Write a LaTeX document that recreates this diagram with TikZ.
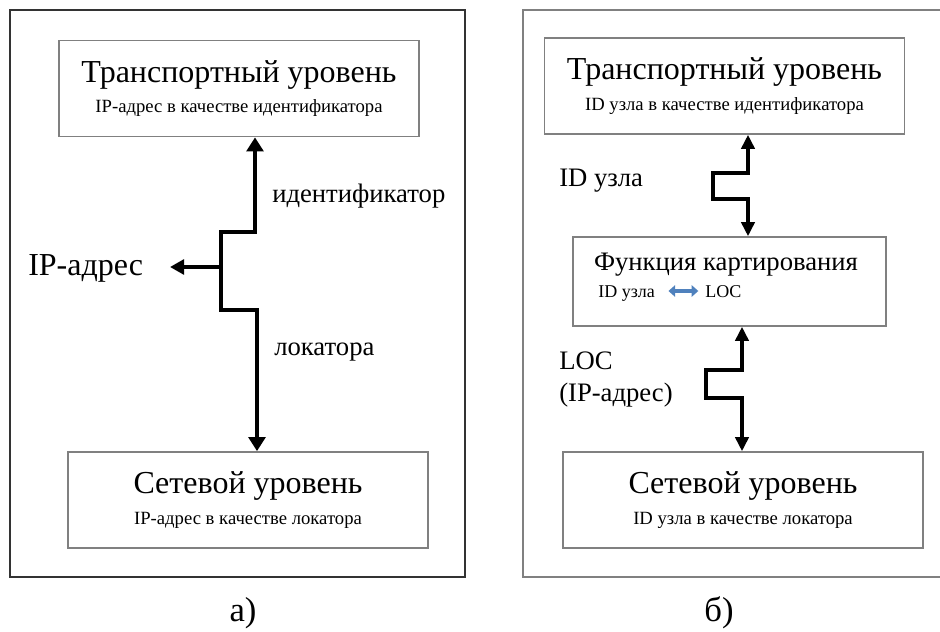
\documentclass[tikz,border=0pt]{standalone}
\usepackage{fontspec}
\setmainfont{Liberation Serif}
\usetikzlibrary{arrows.meta, positioning, calc}

\newcommand{\lvlfont}{\fontsize{24}{26}\selectfont}
\newcommand{\subfont}{\fontsize{14}{16}\selectfont}
\definecolor{boxgray}{RGB}{128,128,128}
\definecolor{mapblue}{RGB}{79,129,189}

\tikzstyle{layer} = [rectangle, draw=boxgray, line width=1.3pt, minimum width=270pt,
                     minimum height=72pt, align=center, inner sep=0pt, font=\subfont]
\tikzstyle{link}  = [line width=2.7pt, {Triangle[length=10.5pt,width=12.5pt]}-{Triangle[length=10.5pt,width=12.5pt]}]

\begin{document}
\begin{tikzpicture}[x=0.75pt, y=-0.75pt,
    lbl/.style={inner sep=0pt, font=\fontsize{20}{24}\selectfont},
    small/.style={inner sep=0pt, font=\fontsize{13.5}{16}\selectfont},
    subcap/.style={inner sep=0pt, font=\fontsize{26}{30}\selectfont},
    linkB/.style={line width=2.3pt, {Triangle[length=10.5pt,width=10pt]}-{Triangle[length=10.5pt,width=10pt]}},
    swap/.style={line width=2.6pt, mapblue, {Triangle[length=5pt,width=8.5pt]}-{Triangle[length=5pt,width=8.5pt]}}]

  \useasboundingbox (0,0) rectangle (940,632);

  % a) frame
  \draw[line width=2.2pt, black!80] (10,10) rectangle (465,577);

  \node[layer] (trA)  at (239,88.5) {{\lvlfont Транспортный уровень}\\[7pt]IP-адрес в качестве идентификатора};
  \node[layer] (netA) at (248,500)  {{\lvlfont Сетевой уровень}\\[7pt]IP-адрес в качестве локатора};

  \node[lbl, anchor=west] (idA)  at (272,196) {идентификатор};
  \node[lbl, anchor=west] (locA) at (274,352) {локатора};
  \node[lbl, font=\lvlfont, anchor=east, inner xsep=20pt] (ipA) at (170,268) {IP-адрес};

  \coordinate (forkA) at (221,267);
  \draw[link] (255,0 |- trA.south) -- (255,232) -| (221,310) -| (257,0 |- netA.north);
  \draw[line width=2.7pt, -{Triangle[length=10.5pt,width=11pt]}] (forkA) -- (ipA.east |- forkA);

  \node[subcap] (capA) at (243,613) {а)};

  % б) frame, open on the right
  \draw[line width=1.5pt, black!50] (945,10) -| (523,577) -- (945,577);

  \node[layer] (trB)  at (724.5,86) {{\lvlfont Транспортный уровень}\\[7pt]ID узла в качестве идентификатора};
  \node[layer, minimum width=234.75pt, minimum height=66.75pt] (mapB) at (729.5,281.5) {};
  \node[layer] (netB) at (743,500)  {{\lvlfont Сетевой уровень}\\[7pt]ID узла в качестве локатора};

  \node[lbl] (mapT) at (726,265) {Функция картирования};
  \node[small, anchor=base west] (mapId)  at (598,297) {ID узла};
  \node[small, anchor=base west] (mapLoc) at (705,297) {LOC};
  \draw[swap, shorten <=10pt, shorten >=5pt] (mapId.east |- 0,291) -- (mapLoc.west |- 0,291);

  \node[lbl, anchor=west] (idB) at (559,181) {ID узла};
  \node[lbl, anchor=west, align=left] (locB) at (559,380) {LOC\\(IP-адрес)};

  \draw[linkB] (748,0 |- trB.south) -- (748,173) -| (713,199) -| (748,0 |- mapB.north);
  \draw[linkB] (742,0 |- mapB.south) -- (742,370) -| (706,398) -| (742,0 |- netB.north);

  \node[subcap] (capB) at (719,613) {б)};
\end{tikzpicture}
\end{document}
